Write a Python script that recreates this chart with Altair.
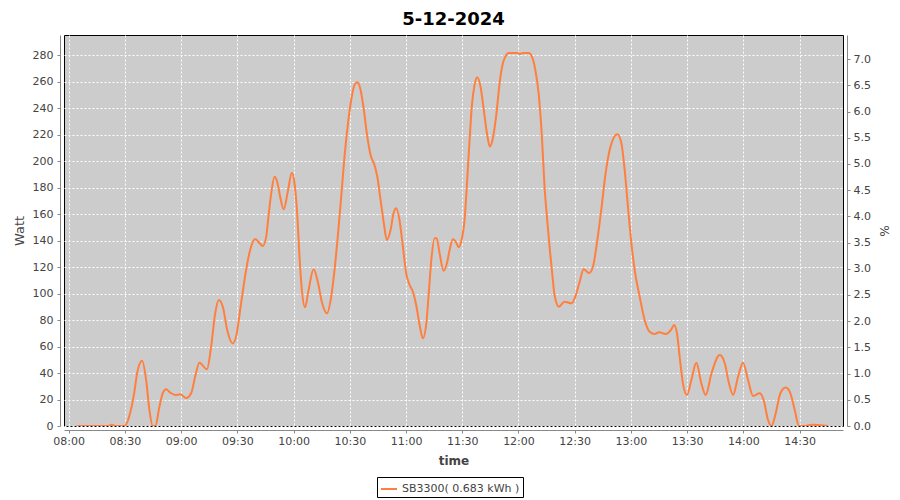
import altair as alt
import pandas as pd

# ---- data ----
times = [
    "08:04:15", "08:21:00", "08:23:00", "08:25:00", "08:29:45", "08:32:45", "08:34:55", "08:36:40",
    "08:39:10", "08:41:20", "08:43:05", "08:44:50", "08:46:15", "08:48:25", "08:50:10", "08:52:00",
    "08:54:10", "08:56:50", "08:59:30", "09:02:40", "09:05:20", "09:07:30", "09:09:45", "09:13:45",
    "09:16:00", "09:18:10", "09:20:05", "09:22:15", "09:24:35", "09:27:30", "09:29:20", "09:32:00",
    "09:34:40", "09:36:50", "09:39:30", "09:41:50", "09:43:35", "09:45:25", "09:46:35", "09:48:05",
    "09:49:50", "09:51:15", "09:52:50", "09:54:45", "09:56:55", "09:59:05", "10:00:30", "10:01:55",
    "10:03:10", "10:04:25", "10:06:10", "10:08:00", "10:10:40", "10:12:55", "10:15:15", "10:17:50",
    "10:20:05", "10:21:50", "10:23:35", "10:25:25", "10:27:10", "10:28:55", "10:30:45", "10:32:30",
    "10:34:00", "10:35:45", "10:37:30", "10:39:20", "10:41:05", "10:43:10", "10:44:40", "10:46:25",
    "10:48:10", "10:49:45", "10:51:45", "10:53:20", "10:54:45", "10:56:30", "10:58:20", "11:00:05",
    "11:01:55", "11:03:40", "11:05:25", "11:07:15", "11:09:00", "11:10:50", "11:12:00", "11:13:30",
    "11:15:15", "11:16:20", "11:17:55", "11:20:00", "11:21:50", "11:23:15", "11:25:00", "11:26:50",
    "11:28:00", "11:29:50", "11:31:15", "11:32:25", "11:33:55", "11:35:10", "11:36:35", "11:38:00",
    "11:39:45", "11:41:30", "11:43:10", "11:44:45", "11:46:20", "11:48:10", "11:49:55", "11:51:40",
    "11:53:30", "11:54:45", "11:59:40", "12:00:35", "12:02:20", "12:05:25", "12:07:10", "12:09:00",
    "12:10:45", "12:12:30", "12:13:55", "12:15:20", "12:16:45", "12:18:00", "12:19:15", "12:21:35",
    "12:24:35", "12:28:20", "12:30:20", "12:32:40", "12:34:45", "12:37:40", "12:39:45", "12:41:50",
    "12:44:10", "12:46:30", "12:48:40", "12:52:45", "12:54:55", "12:56:40", "12:58:25", "13:00:15",
    "13:02:00", "13:04:40", "13:07:20", "13:10:00", "13:12:40", "13:15:00", "13:18:30", "13:21:35",
    "13:23:00", "13:24:35", "13:26:00", "13:27:45", "13:29:55", "13:32:15", "13:34:55", "13:37:35",
    "13:39:55", "13:43:00", "13:47:25", "13:50:05", "13:52:20", "13:54:30", "13:57:10", "13:59:50",
    "14:02:30", "14:05:10", "14:08:45", "14:10:50", "14:13:10", "14:15:00", "14:17:15", "14:19:45",
    "14:22:35", "14:25:05", "14:27:25", "14:29:40", "14:33:00", "14:37:00", "14:41:00", "14:45:10",
]
watt = [
    0, 0, 1, 0, 0, 9.6, 24.7, 41,
    49.3, 34.7, 12, 0, 0, 14.6, 24.7, 27.7,
    25.2, 23.4, 23.9, 21.1, 24.7, 37.3, 47.8, 42.8,
    59.9, 85, 95.2, 90, 72.5, 62.4, 67.5, 92.7,
    117.8, 132.9, 141.2, 138, 136, 143, 158, 175.8,
    188.3, 184.5, 173.2, 163.7, 177, 191.3, 183.3, 160.6,
    127.9, 102.7, 89.6, 102.7, 118.4, 109, 92.7, 85.1,
    97.7, 117.8, 143, 173.2, 203.4, 227.3, 246.2, 257.6,
    259.6, 253.8, 238.7, 218.5, 204.7, 197.1, 188.3, 170.7,
    153.1, 140.5, 148, 160.6, 164.4, 155.6, 135.4, 115.3,
    106.5, 101.4, 91.4, 76.3, 66.2, 77.6, 97.7, 125.4,
    141.8, 141.8, 130.4, 117.3, 122.9, 132.9, 141, 138.4,
    135, 141.8, 155.6, 180.7, 216, 242.4, 257.6, 263.4,
    256.3, 238.7, 221.1, 211, 217.3, 234.9, 258.8, 273.9,
    280.2, 281.7, 281.7, 281, 281.7, 281.7, 279, 268.9,
    251.3, 218.5, 180.7, 155.6, 132.9, 115.3, 98.9, 90.1,
    93.9, 92.7, 97.7, 109, 118.4, 115.5, 120.3, 138,
    163.1, 190.9, 208.5, 220.3, 213.5, 193.4, 165.6, 138,
    117.8, 97.7, 80.1, 71.2, 69.5, 70.8, 69.5, 73,
    76.3, 70, 52.3, 32.2, 23.4, 34.7, 47.8, 32.2,
    23.4, 39.8, 53.6, 47.4, 32.2, 23.4, 37.2, 47.8,
    34.7, 22.7, 24.7, 19.6, 4.5, 0, 9.6, 24.7,
    29, 24.7, 12.1, 0, 0, 1, 0.5, 0,
]
series_name = "SB3300( 0.683 kWh )"
x_tick_labels = ["08:00", "08:30", "09:00", "09:30", "10:00", "10:30", "11:00",
                 "11:30", "12:00", "12:30", "13:00", "13:30", "14:00", "14:30"]
watt_ticks = [0, 20, 40, 60, 80, 100, 120, 140, 160, 180, 200, 220, 240, 260, 280]
pct_ticks = [0.0, 0.5, 1.0, 1.5, 2.0, 2.5, 3.0, 3.5, 4.0, 4.5, 5.0, 5.5, 6.0, 6.5, 7.0]

DAY = "2024-05-12"
df = pd.DataFrame({
    "time": [f"{DAY}T{t}" for t in times],
    "watt": watt,
    "series": series_name,
})
pct_df = pd.DataFrame({"pct": pct_ticks})


def dt(hms):
    h, m, s = [int(v) for v in hms.split(":")]
    return alt.DateTime(year=2024, month=5, date=12, hours=h, minutes=m, seconds=s)


x_values = [dt(t + ":00") for t in x_tick_labels]

x_enc = alt.X(
    "time:T",
    scale=alt.Scale(domain=[dt("07:57:30"), dt("14:53:10")]),
    axis=alt.Axis(
        values=x_values, format="%H:%M", title="time",
        grid=True, gridColor="white", gridDash=[2, 2], gridOpacity=1, gridWidth=1,
        domainColor="#888888", tickColor="#888888", tickSize=3, offset=4,
        labelColor="#444444", labelFontSize=11, labelPadding=2,
        titleColor="#444444", titleFontSize=12, titleFontWeight="bold", titlePadding=9,
    ),
)

line = alt.Chart(df).mark_line(
    interpolate="monotone", strokeWidth=2, clip=True
).encode(
    x=x_enc,
    y=alt.Y(
        "watt:Q",
        scale=alt.Scale(domain=[0, 295.3], nice=False, zero=False),
        axis=alt.Axis(
            values=watt_ticks, title="Watt", orient="left",
            grid=True, gridColor="white", gridDash=[2, 2], gridOpacity=1, gridWidth=1,
            domainColor="#888888", tickColor="#888888", tickSize=3, offset=4,
            labelColor="#444444", labelFontSize=11, labelPadding=4,
            titleColor="#444444", titleFontSize=13, titleFontWeight="normal", titlePadding=6,
        ),
    ),
    color=alt.Color(
        "series:N",
        scale=alt.Scale(domain=[series_name], range=["#ff7f3f"]),
        legend=alt.Legend(
            title=None, orient="none", legendX=313, legendY=442,
            symbolType="stroke", symbolSize=256, symbolStrokeWidth=2,
            strokeColor="black", fillColor="white", padding=3,
            labelFontSize=11, labelColor="#444444", labelOffset=4,
        ),
    ),
)

right = alt.Chart(pct_df).mark_point(opacity=0).encode(
    x=alt.value(0),
    y=alt.Y(
        "pct:Q",
        scale=alt.Scale(domain=[0, 7.46], nice=False, zero=False),
        axis=alt.Axis(
            values=pct_ticks, format=".1f", title="%", orient="right",
            grid=False,
            domainColor="#888888", tickColor="#888888", tickSize=3, offset=4,
            labelColor="#444444", labelFontSize=11, labelPadding=3,
            titleColor="#444444", titleFontSize=12, titleFontWeight="normal", titlePadding=6,
        ),
    ),
)

chart = alt.layer(line, right).resolve_scale(y="independent").properties(
    width=779,
    height=391,
    padding={"left": 56, "top": 27, "right": 49, "bottom": 74},
    autosize=alt.AutoSizeParams(type="none"),
    title=alt.Title("5-12-2024", fontSize=18, fontWeight="bold", color="black",
                    anchor="middle", offset=6),
).configure(
    font="DejaVu Sans",
).configure_view(
    fill="#cccccc", stroke="black", strokeWidth=1,
)

chart.save("out.html", embed_options={"renderer": "svg", "actions": False})
